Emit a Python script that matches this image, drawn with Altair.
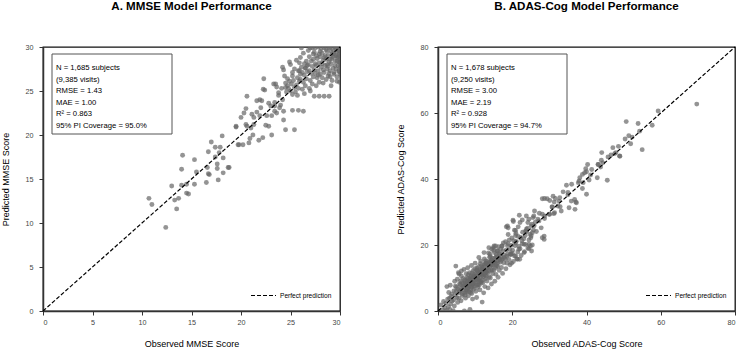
import altair as alt
import pandas as pd

FONT = "Liberation Sans"

# (observed, predicted) pairs for the MMSE model
mmse_points = [
    (10.7, 12.8), (11.0, 12.1), (12.4, 9.5), (13.0, 14.2), (13.3, 12.6), (13.7, 12.8),
    (13.5, 11.6), (14.0, 14.3), (14.5, 14.4), (14.5, 13.4), (14.7, 13.3), (15.3, 14.4),
    (16.5, 14.6), (17.7, 14.9), (14.1, 17.7), (14.0, 16.1), (15.3, 17.2), (15.5, 15.8),
    (16.8, 15.5), (16.7, 18.1), (17.0, 19.2), (17.4, 18.6), (17.6, 16.7), (17.6, 16.2),
    (18.2, 15.7), (18.2, 17.4), (18.7, 16.3), (17.4, 17.5), (17.8, 18.0), (17.9, 18.6),
    (18.1, 19.9), (16.6, 16.3), (16.7, 15.6), (18.8, 16.3),
    (19.5, 20.9), (19.7, 18.9), (20.2, 18.9), (20.6, 21.0), (20.9, 19.6), (21.2, 20.0),
    (21.8, 19.4), (22.2, 19.7), (23.1, 20.0), (20.0, 22.0), (20.5, 23.0), (20.6, 24.4),
    (20.3, 22.5), (21.1, 22.35), (21.3, 22.0), (21.6, 22.6), (21.9, 24.0), (22.1, 23.9),
    (22.25, 25.2), (22.5, 21.1), (22.8, 21.0), (22.6, 22.2), (23.1, 22.2), (23.4, 22.7),
    (23.4, 23.3), (24.0, 23.4), (24.5, 20.6), (25.4, 20.6), (24.3, 21.7), (25.2, 22.8),
    (25.8, 22.8), (26.3, 22.7), (24.9, 28.3), (24.3, 27.4), (23.8, 24.5), (24.1, 25.3),
    (24.7, 25.6), (23.6, 25.45), (23.3, 25.8), (24.4, 26.7), (25.2, 27.1), (25.9, 27.3),
    (26.5, 27.6), (22.3, 26.4), (20.5, 21.2), (19.5, 21.0), (19.8, 18.9), (20.8, 19.1),
    (21.0, 20.8), (21.3, 21.2), (21.9, 22.2), (22.0, 23.1), (21.6, 23.9), (22.4, 25.1),
    (22.8, 23.6), (23.0, 23.3), (23.4, 23.7), (23.5, 25.8), (23.8, 24.8), (23.6, 22.5),
    (23.9, 23.1), (24.2, 24.0), (24.5, 25.4), (24.3, 22.7),
    (29.9, 30.0), (29.8, 29.6), (29.9, 29.1), (29.7, 28.8), (29.9, 28.3), (29.8, 27.9),
    (29.6, 27.5), (29.9, 27.2), (29.7, 26.6), (29.5, 29.9), (29.3, 29.7), (29.4, 29.2),
    (29.2, 28.7), (29.5, 28.4), (29.1, 28.1), (29.3, 27.6), (29.0, 27.3), (29.4, 26.9),
    (29.2, 26.2), (28.9, 29.9), (28.7, 29.5), (28.8, 29.0), (28.6, 28.6), (28.9, 28.3),
    (28.5, 27.9), (28.7, 27.5), (28.4, 27.1), (28.8, 26.7), (28.6, 26.3), (28.3, 25.9),
    (28.1, 29.8), (28.2, 29.3), (28.0, 28.9), (28.3, 28.5), (27.9, 28.2), (28.1, 27.7),
    (27.8, 27.3), (28.0, 26.9), (27.7, 26.5), (27.9, 26.0), (27.6, 25.6), (27.5, 29.9),
    (27.4, 29.4), (27.6, 29.0), (27.3, 28.6), (27.5, 28.1), (27.2, 27.8), (27.4, 27.4),
    (27.1, 27.0), (27.3, 26.6), (27.0, 26.2), (27.2, 25.8), (26.9, 25.3), (26.8, 29.6),
    (26.9, 28.9), (26.6, 28.4), (26.8, 28.0), (26.5, 27.6), (26.7, 27.2), (26.4, 26.8),
    (26.6, 26.4), (26.3, 26.0), (26.5, 25.6), (26.2, 25.2), (26.4, 24.7), (26.0, 28.8),
    (25.9, 28.2), (26.1, 27.7), (25.8, 27.3), (26.0, 26.9), (25.7, 26.5), (25.9, 26.1),
    (25.6, 25.7), (25.8, 25.3), (25.5, 24.9), (25.7, 24.5), (25.4, 27.5), (25.2, 26.7),
    (25.3, 26.2), (25.1, 25.8), (25.4, 25.4), (25.0, 25.0), (25.2, 24.6), (24.9, 26.1),
    (24.8, 25.3), (24.6, 24.9), (24.7, 26.4), (24.5, 25.9),
    (27.0, 29.9), (27.8, 30.0), (28.4, 29.9), (29.0, 30.0), (29.6, 30.0), (30.0, 29.8),
    (30.0, 29.3), (30.0, 28.6), (30.0, 27.7), (30.0, 26.9), (29.95, 26.0), (26.3, 29.3),
    (25.6, 28.5), (24.2, 27.7), (25.0, 28.0), (26.1, 29.9), (27.0, 25.0), (27.4, 24.4),
    (27.9, 24.4), (28.4, 24.4), (28.9, 24.4), (29.1, 25.6), (29.7, 26.1), (29.4, 27.1),
    (29.9, 27.3), (29.7, 28.4), (29.2, 29.2), (28.7, 28.0), (28.0, 29.5), (27.2, 29.9),
    (28.5, 29.0), (29.0, 28.6), (29.6, 29.4), (28.2, 28.1), (27.7, 28.7), (29.3, 28.9),
    (28.8, 27.8), (27.9, 29.2), (29.5, 27.9), (29.1, 29.5), (28.4, 28.8), (27.6, 27.9),
    (28.9, 27.0), (29.8, 28.9), (28.3, 27.4), (27.1, 28.4), (26.7, 27.9), (27.8, 26.8),
    (29.0, 26.6), (28.2, 26.5), (26.9, 27.3), (26.2, 27.1), (27.5, 27.0), (26.4, 28.1),
    (29.6, 29.0), (28.6, 29.7), (27.3, 29.2), (29.9, 29.6), (30.0, 28.2), (26.0, 26.3),
]

# (observed, predicted) pairs for the ADAS-Cog model
adas_points = [
    (69.7, 62.7), (59.3, 60.6), (57.7, 56.3), (53.9, 56.8), (50.7, 57.4), (50.4, 52.1),
    (51.4, 53.1), (52.3, 52.7), (51.9, 50.7), (55.0, 48.9), (54.3, 54.5), (48.6, 49.9),
    (47.1, 49.5), (47.9, 48.0), (49.0, 46.9), (46.6, 47.3), (44.1, 48.0), (44.0, 45.7),
    (43.2, 44.4), (40.3, 44.4), (39.8, 43.1), (41.4, 42.9), (40.0, 42.2), (38.9, 41.4),
    (45.6, 39.6), (42.9, 40.4), (40.7, 39.7), (40.0, 35.4), (38.9, 37.1), (38.2, 40.4),
    (37.8, 38.9), (36.8, 33.8), (37.1, 33.0), (36.9, 30.8), (35.3, 31.3), (36.0, 38.4),
    (34.6, 38.1), (33.7, 36.1), (35.0, 35.2), (32.6, 33.3), (32.9, 31.6), (31.0, 34.8),
    (31.3, 33.0), (30.7, 31.5), (29.9, 29.3), (31.2, 29.5), (28.7, 28.0), (28.1, 34.0),
    (29.4, 34.0), (28.6, 21.7), (28.1, 22.2), (25.4, 23.7), (26.0, 30.3), (25.8, 28.8),
    (23.8, 28.8), (24.5, 27.8), (23.6, 24.2), (22.1, 26.8), (22.7, 27.6), (21.9, 29.0),
    (21.6, 25.5), (20.6, 24.5), (20.2, 27.5), (18.9, 25.2), (18.4, 25.5), (20.9, 22.9),
    (23.2, 20.2), (24.9, 19.7), (25.2, 18.2), (24.5, 18.9), (21.8, 18.7), (22.0, 15.7),
    (20.9, 16.7), (19.8, 14.5), (43.1, 44.4), (43.8, 43.6), (44.4, 44.9), (45.8, 46.7),
    (47.6, 47.7), (48.9, 47.0), (41.1, 41.2), (39.5, 41.9), (38.0, 39.4), (39.1, 38.9),
    (35.0, 35.9), (35.9, 33.3), (37.3, 32.8), (32.8, 34.3), (31.6, 34.1), (30.1, 33.5),
    (28.7, 34.1), (32.3, 31.8), (30.8, 31.5), (33.2, 30.3), (31.4, 29.8), (30.1, 29.3),
    (28.7, 28.8), (25.6, 28.3), (26.9, 27.8), (24.2, 26.8), (25.1, 25.8), (27.8, 25.2),
    (23.8, 24.8), (20.3, 27.1), (18.7, 25.8), (20.9, 24.4), (18.9, 23.2), (17.3, 19.7),
    (15.1, 19.7), (13.7, 19.2), (16.0, 18.2), (23.2, 17.7), (21.4, 15.7), (19.6, 17.2),
    (24.5, 20.2), (25.9, 25.8), (27.2, 27.3), (28.1, 29.3), (25.0, 22.2), (28.6, 22.7),
    (1.2, 0.3), (0.8, 1.8), (1.5, 2.9), (1.9, 0.9),
    (2.3, 0.2), (2.1, 2.4), (2.6, 3.6), (2.8, 1.3), (2.4, 7.4),
    (3.2, 0.5), (3.4, 2.1), (3.1, 3.9), (3.7, 5.2), (3.5, 4.4), (3.3, 7.8),
    (4.1, 0.1), (4.4, 1.5), (4.2, 3.3), (4.6, 4.8), (4.3, 6.1), (4.7, 7.5), (4.5, 9.0), (4.8, 13.6),
    (5.3, 2.6), (5.1, 4.0), (5.6, 5.5), (5.4, 6.7), (5.8, 8.2), (5.2, 9.6), (5.7, 11.2), (5.5, 11.6),
    (6.2, 3.1), (6.5, 4.7), (6.1, 6.0), (6.7, 7.3), (6.4, 8.6), (6.8, 9.9), (6.3, 12.1), (6.9, 6.5),
    (7.1, 0.0), (7.4, 3.9), (7.2, 5.4), (7.7, 6.4), (7.5, 7.8), (7.3, 8.9), (7.8, 10.1),
    (7.6, 11.3), (7.0, 12.6), (7.9, 7.1),
    (8.6, 0.5), (8.2, 4.6), (8.4, 5.9), (8.1, 7.0), (8.7, 8.1), (8.3, 9.2), (8.8, 10.4),
    (8.5, 11.6), (8.0, 13.1), (8.9, 6.5), (8.4, 8.7),
    (9.3, 3.6), (9.1, 5.3), (9.6, 6.6), (9.4, 7.7), (9.8, 8.8), (9.2, 9.9), (9.7, 11.0),
    (9.5, 12.2), (9.0, 13.8), (9.9, 10.5), (9.3, 8.1),
    (10.4, 4.1), (10.2, 6.0), (10.7, 7.2), (10.1, 8.4), (10.6, 9.5), (10.3, 10.6),
    (10.8, 11.8), (10.5, 13.0), (10.0, 14.5), (10.9, 9.1), (10.4, 12.4),
    (11.9, 2.7), (11.3, 6.4), (11.1, 7.9), (11.6, 9.0), (11.4, 10.2), (11.8, 11.3),
    (11.2, 12.5), (11.7, 13.7), (11.5, 15.2), (11.0, 16.2), (11.9, 10.8),
    (12.3, 5.5), (12.6, 7.4), (12.1, 8.6), (12.8, 9.8), (12.4, 11.0), (12.7, 12.1),
    (12.2, 13.3), (12.9, 14.5), (12.5, 15.8), (12.4, 17.7), (12.0, 12.7),
    (13.5, 7.0), (13.2, 9.1), (13.8, 10.3), (13.4, 11.5), (13.1, 12.7), (13.7, 13.9),
    (13.3, 15.0), (13.9, 16.3), (13.6, 17.6), (13.0, 14.4),
    (14.4, 8.2), (14.1, 10.0), (14.7, 11.3), (14.3, 12.5), (14.8, 13.6), (14.2, 14.8),
    (14.6, 16.0), (14.0, 17.2), (14.5, 18.7), (14.9, 19.2), (14.4, 15.4),
    (15.3, 9.0), (15.6, 11.1), (15.1, 12.4), (15.8, 13.6), (15.4, 14.7), (15.2, 15.9),
    (15.7, 17.1), (15.0, 18.4), (15.5, 19.7), (15.9, 16.5),
    (16.2, 10.2), (16.5, 12.3), (16.1, 13.5), (16.8, 14.8), (16.4, 16.0), (16.7, 17.2),
    (16.0, 18.2), (16.3, 19.5),
    (17.4, 11.4), (17.1, 13.2), (17.7, 14.6), (17.3, 15.8), (17.8, 17.0), (17.5, 18.3), (17.2, 19.7),
    (18.3, 12.8), (18.6, 14.5), (18.1, 15.7), (18.8, 17.1), (18.4, 18.4), (18.7, 19.8), (18.2, 21.0),
    (19.4, 14.0), (19.1, 15.6), (19.7, 17.2), (19.3, 18.6), (19.8, 19.9), (19.5, 17.2),
    (20.3, 15.0), (20.6, 16.7), (20.1, 18.4), (20.8, 19.8), (20.4, 21.3),
    (21.2, 15.8), (21.5, 17.9), (21.8, 19.6), (21.1, 21.1), (21.6, 22.6),
    (22.4, 16.8), (22.1, 18.9), (22.7, 20.4), (22.3, 22.3), (22.8, 23.9),
    (23.3, 18.0), (23.6, 20.2), (23.1, 21.9), (23.8, 24.0),
    (24.2, 19.1), (24.5, 21.5), (24.8, 23.3), (24.1, 25.1),
    (25.4, 20.0), (25.1, 22.8), (25.7, 24.5), (25.3, 26.3),
    (6.6, 5.2), (7.2, 9.4), (8.0, 8.3), (8.7, 9.7), (9.1, 7.2), (9.6, 9.4), (10.2, 11.2),
    (10.8, 8.0), (11.3, 11.9), (11.6, 8.5), (12.2, 10.4), (12.9, 11.6), (13.3, 13.2),
    (13.8, 12.1), (14.3, 13.9), (14.9, 14.6), (15.5, 13.1), (15.9, 15.3), (16.6, 15.6),
    (17.0, 16.4), (6.0, 7.9), (5.0, 7.2), (7.9, 5.8), (10.0, 10.1), (11.0, 9.6),
    (12.6, 13.9), (13.9, 14.9), (14.6, 12.3), (9.9, 12.8), (8.2, 11.0), (3.8, 3.0),
    (2.9, 5.6), (6.3, 10.6), (16.9, 18.8), (18.9, 20.4), (19.9, 22.1), (20.9, 20.6),
    (17.9, 16.2), (15.2, 17.7), (11.4, 14.3),
    (5.9, 6.2), (6.4, 7.0), (7.0, 7.6), (7.4, 8.2), (7.8, 9.0), (8.3, 7.6), (8.6, 9.0),
    (9.0, 9.3), (9.4, 10.3), (9.8, 7.4), (10.3, 9.8), (10.6, 12.0), (11.1, 11.0),
    (11.5, 12.2), (11.9, 13.1), (12.3, 12.3), (12.7, 10.9), (13.1, 11.9), (13.5, 14.2),
    (13.9, 13.4), (14.3, 15.1), (14.7, 14.0), (15.1, 15.0), (15.6, 16.2), (16.1, 14.6),
    (16.5, 17.5), (17.0, 15.4), (7.5, 6.0), (8.8, 5.6), (10.5, 7.8), (12.0, 9.3),
    (6.8, 8.3), (9.2, 11.5), (10.9, 13.4), (12.8, 15.2), (14.1, 16.5), (8.1, 9.8),
    (9.5, 8.5), (11.2, 8.8), (13.0, 10.5), (6.1, 9.1), (5.6, 3.9), (4.9, 5.9), (7.3, 4.8),
    (11.7, 11.6), (12.5, 14.3), (10.7, 10.3), (9.0, 10.7), (8.5, 7.4), (15.7, 14.2),
    (17.6, 20.6), (18.5, 16.6), (19.2, 21.5), (20.0, 17.5), (21.0, 23.5), (22.6, 21.3),
    (23.5, 22.9), (26.5, 24.1), (27.3, 29.6), (26.2, 26.9),
]

mmse_stats = [
    "N = 1,685 subjects", "(9,385 visits)", "RMSE = 1.43",
    "MAE = 1.00", "R² = 0.863", "95% PI Coverage = 95.0%",
]
adas_stats = [
    "N = 1,678 subjects", "(9,250 visits)", "RMSE = 3.00",
    "MAE = 2.19", "R² = 0.928", "95% PI Coverage = 94.7%",
]

mmse_ticks = [0, 5, 10, 15, 20, 25, 30]
adas_ticks = [0, 20, 40, 60, 80]

W, H = 297, 264


def panel(points, vmax, ticks, title, xtitle, ytitle, stats):
    pts = pd.DataFrame(points, columns=["obs", "pred"])
    xenc = alt.X(
        "obs:Q",
        scale=alt.Scale(domain=[0, vmax], nice=False),
        axis=alt.Axis(values=ticks, title=xtitle, labelPadding=3, titlePadding=14),
    )
    yenc = alt.Y(
        "pred:Q",
        scale=alt.Scale(domain=[0, vmax], nice=False),
        axis=alt.Axis(values=ticks, title=ytitle, labelPadding=6, titlePadding=15),
    )
    scatter = (
        alt.Chart(pts)
        .mark_circle(size=24, color="#666666", opacity=0.7, clip=True)
        .encode(x=xenc, y=yenc)
    )

    ref = pd.DataFrame(
        {"obs": [0, vmax], "pred": [0, vmax], "kind": ["Perfect prediction"] * 2}
    )
    diag = (
        alt.Chart(ref)
        .mark_line(color="black", strokeWidth=1.2)
        .encode(
            x="obs:Q",
            y="pred:Q",
            strokeDash=alt.StrokeDash(
                "kind:N",
                scale=alt.Scale(domain=["Perfect prediction"], range=[[4, 2]]),
                legend=alt.Legend(
                    title=None,
                    orient="none",
                    legendX=207,
                    legendY=235,
                    symbolType="stroke",
                    symbolSize=625,
                    symbolStrokeWidth=1.2,
                    symbolStrokeColor="black",
                    labelFont=FONT,
                    labelFontSize=6.6,
                    labelColor="black",
                    labelOffset=3,
                    padding=0,
                ),
            ),
        )
    )

    note = pd.DataFrame({"t": ["\n".join(stats)]})
    box = (
        alt.Chart(note)
        .mark_rect(fill="white", stroke="#555555", strokeWidth=1)
        .encode(x=alt.value(9), x2=alt.value(129), y=alt.value(7), y2=alt.value(87))
    )
    text = (
        alt.Chart(note)
        .mark_text(
            align="left", baseline="alphabetic", font=FONT, fontSize=7.7,
            lineHeight=11.6, lineBreak="\n", color="black",
        )
        .encode(x=alt.value(13), y=alt.value(23), text="t:N")
    )

    return alt.layer(scatter, diag, box, text).properties(
        width=W,
        height=H,
        title=alt.TitleParams(
            title, font=FONT, fontSize=11.6, fontWeight="bold", anchor="middle",
            offset=30, color="black",
        ),
    )


left = panel(mmse_points, 30, mmse_ticks, "A. MMSE Model Performance",
             "Observed MMSE Score", "Predicted MMSE Score", mmse_stats)
right = panel(adas_points, 80, adas_ticks, "B. ADAS-Cog Model Performance",
              "Observed ADAS-Cog Score", "Predicted ADAS-Cog Score", adas_stats)

chart = (
    alt.hconcat(left, right, spacing=51)
    .resolve_scale(strokeDash="independent")
    .resolve_legend(strokeDash="independent")
    .properties(padding={"left": 0, "top": 0, "right": 0, "bottom": 0})
    .configure_view(stroke="#111111", strokeWidth=1.3)
    .configure_axis(
        grid=False,
        domainColor="#333333",
        domainWidth=1.5,
        tickColor="#333333",
        tickSize=4,
        labelFont=FONT,
        labelFontSize=7.2,
        labelColor="#444444",
        titleFont=FONT,
        titleFontSize=9,
        titleFontWeight="normal",
        titleColor="black",
    )
)

chart.save("out.html", embed_options={"renderer": "svg", "actions": False})
